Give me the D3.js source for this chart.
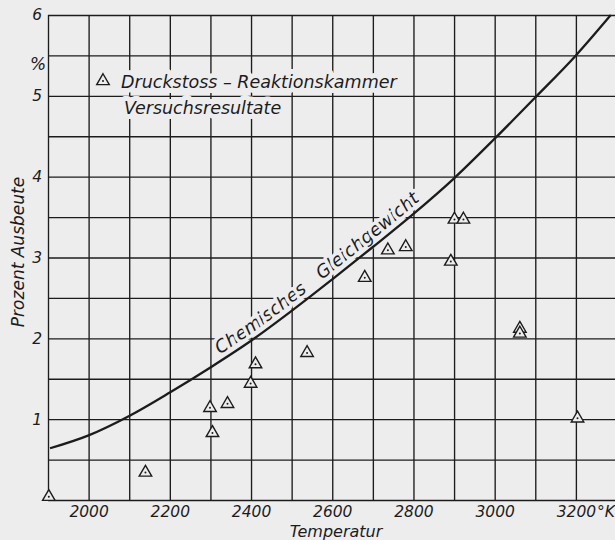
<!DOCTYPE html>
<html>
<head>
<meta charset="utf-8">
<script src="https://cdn.jsdelivr.net/npm/d3@7"></script>
<style>
    body { margin: 0; background: #ededed; }
    svg { display: block; }
    text { font-family: "DejaVu Sans", sans-serif; font-style: italic; fill: #1c1c1c; }
</style>
</head>
<body>
<svg></svg>
<script>

// Gleichgewichtskurve: Temperatur (K) und Ausbeute (%)
let curveTemps = [1905, 2000, 2100, 2200, 2300, 2400, 2500, 2600, 2700, 2800, 2900, 3000, 3100, 3200, 3286];
let curveValues = [0.64, 0.80, 1.04, 1.33, 1.64, 1.97, 2.34, 2.73, 3.13, 3.54, 3.98, 4.47, 4.98, 5.50, 6.00];

// Versuchsresultate der Druckstoss-Reaktionskammer
let pointTemps = [1902, 2140, 2299, 2305, 2342, 2399, 2411, 2538, 2680, 2737, 2781, 2892, 2901, 2923, 3062, 3062, 3204];
let pointValues = [0.04, 0.34, 1.14, 0.83, 1.19, 1.44, 1.68, 1.82, 2.75, 3.09, 3.13, 2.95, 3.47, 3.47, 2.12, 2.06, 1.01];

let xTickLabels = [2000, 2200, 2400, 2600, 2800, 3000, 3200];
let yTickLabels = [1, 2, 3, 4, 5, 6];

let width = 615;
let height = 540;
let bg = '#ededed';
let ink = '#1c1c1c';

let svg = d3.select('svg')
    .attr('width', width)
    .attr('height', height);
let container = svg.append('g');

let x = d3.scaleLinear().domain([1900, 3300]).range([48, 616.5]);
let y = d3.scaleLinear().domain([0, 6]).range([500, 15]);

// grid: every 100 K and every 0.5 %
let xGrid = d3.axisBottom(x)
    .tickValues(d3.range(1900, 3301, 100))
    .tickSize(-(y(0) - y(6)))
    .tickFormat('');
let yGrid = d3.axisLeft(y)
    .tickValues(d3.range(0, 6.01, 0.5))
    .tickSize(-(x(3300) - x(1900)))
    .tickFormat('');

container.append('g')
    .attr('transform', `translate(0, ${y(0)})`)
    .call(xGrid)
    .call(g => g.select('.domain').remove())
    .selectAll('line')
    .attr('stroke', ink)
    .attr('stroke-width', 1.35);

container.append('g')
    .attr('transform', `translate(${x(1900)}, 0)`)
    .call(yGrid)
    .call(g => g.select('.domain').remove())
    .selectAll('line')
    .attr('stroke', ink)
    .attr('stroke-width', 1.35);

// tick labels
let xAxis = container.append('g')
    .attr('transform', `translate(0, ${y(0)})`)
    .call(d3.axisBottom(x).tickValues(xTickLabels).tickSize(0).tickPadding(6).tickFormat(d3.format('d')))
    .call(g => g.select('.domain').remove());
xAxis.selectAll('text')
    .style('font-size', '15.5px')
    .attr('fill', ink);

// last label carries the unit
let lastTick = xAxis.selectAll('text').filter(d => d === 3200);
let numWidth = lastTick.node().getComputedTextLength();
lastTick
    .attr('text-anchor', 'start')
    .attr('x', -numWidth / 2);
lastTick.append('tspan')
    .attr('dx', 1)
    .text('°K');

let yAxis = container.append('g')
    .attr('transform', `translate(${x(1900)}, 0)`)
    .call(d3.axisLeft(y).tickValues(yTickLabels).tickSize(0).tickPadding(6).tickFormat(d3.format('d')))
    .call(g => g.select('.domain').remove());
yAxis.selectAll('text')
    .style('font-size', '15.5px')
    .attr('fill', ink);

container.append('text')
    .attr('x', 38)
    .attr('y', 64)
    .attr('dy', '0.35em')
    .attr('text-anchor', 'middle')
    .style('font-size', '17px')
    .text('%');

// axis titles
container.append('text')
    .attr('x', 336)
    .attr('y', 537)
    .attr('text-anchor', 'middle')
    .style('font-size', '16px')
    .text('Temperatur');

container.append('text')
    .attr('transform', 'translate(24, 252) rotate(-90)')
    .attr('text-anchor', 'middle')
    .style('font-size', '17px')
    .text('Prozent Ausbeute');

// equilibrium curve
let curveData = curveTemps.map((t, i) => ({t: t, v: curveValues[i]}));
let line = d3.line()
    .x(d => x(d.t))
    .y(d => y(d.v))
    .curve(d3.curveMonotoneX);

let curvePath = container.append('path')
    .datum(curveData)
    .attr('id', 'gleichgewicht')
    .attr('fill', 'none')
    .attr('stroke', 'none')
    .attr('d', line);

// find where the label starts on the curve
let node = curvePath.node();
let total = node.getTotalLength();
let lo = 0, hi = total;
for (let k = 0; k < 30; k++) {
    let mid = (lo + hi) / 2;
    if (node.getPointAtLength(mid).x < 223) lo = mid; else hi = mid;
}

let label = container.append('text')
    .style('font-size', '18px')
    .attr('dy', -6)
    .attr('stroke', bg)
    .attr('stroke-width', 7)
    .attr('stroke-linejoin', 'round')
    .attr('paint-order', 'stroke');
label.append('textPath')
    .attr('href', '#gleichgewicht')
    .attr('startOffset', lo)
    .text('Chemisches\u2003Gleichgewicht');

container.append('path')
    .datum(curveData)
    .attr('fill', 'none')
    .attr('stroke', ink)
    .attr('stroke-width', 2.3)
    .attr('d', line);

// legend
let triangle = d3.symbol().type(d3.symbolTriangle).size(68);

let legend = container.append('g');
legend.append('text')
    .attr('x', 121)
    .attr('y', 88)
    .style('font-size', '17.5px')
    .attr('stroke', bg)
    .attr('stroke-width', 10)
    .attr('stroke-linejoin', 'round')
    .attr('paint-order', 'stroke')
    .text('Druckstoss – Reaktionskammer');
legend.append('text')
    .attr('x', 124)
    .attr('y', 114)
    .style('font-size', '17.5px')
    .attr('stroke', bg)
    .attr('stroke-width', 10)
    .attr('stroke-linejoin', 'round')
    .attr('paint-order', 'stroke')
    .text('Versuchsresultate');

let legendMark = legend.append('g')
    .attr('transform', 'translate(103, 81)');
legendMark.append('path')
    .attr('d', triangle)
    .attr('fill', bg)
    .attr('stroke', ink)
    .attr('stroke-width', 1.4);
legendMark.append('circle')
    .attr('r', 1)
    .attr('fill', ink);

// measured points
let pointData = pointTemps.map((t, i) => ({t: t, v: pointValues[i]}));
let marks = container.selectAll('g.mark')
    .data(pointData)
    .enter()
    .append('g')
    .classed('mark', true)
    .attr('transform', d => `translate(${x(d.t)}, ${y(d.v)})`);

marks.append('path')
    .attr('d', triangle)
    .attr('fill', bg)
    .attr('stroke', ink)
    .attr('stroke-width', 1.4);

marks.append('circle')
    .attr('r', 1)
    .attr('fill', ink);

</script>
</body>
</html>
